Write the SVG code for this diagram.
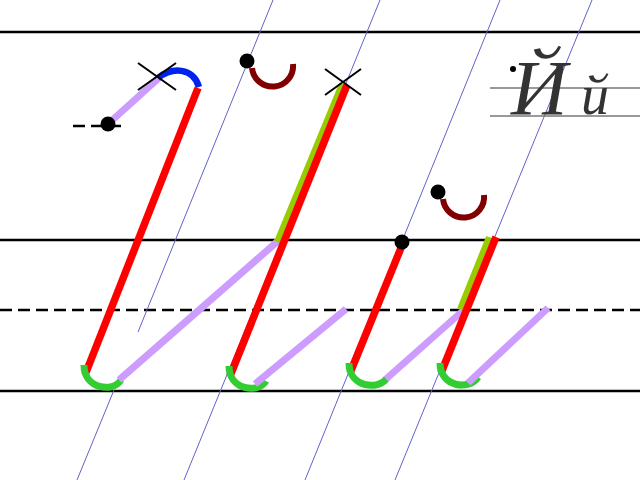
<svg xmlns="http://www.w3.org/2000/svg" width="640" height="480" viewBox="0 0 640 480">
<style>
.rule{stroke:#000;stroke-width:2.6;fill:none}
.dash{stroke:#000;stroke-width:2.6;stroke-dasharray:12 6;fill:none}
.slant{stroke:#6262cc;stroke-width:1;fill:none}
.red{stroke:#ff0000;stroke-width:7.5;fill:none}
.lav{stroke:#cc9cff;stroke-width:7;fill:none}
.grn{stroke:#33cc33;stroke-width:7;fill:none}
.olv{stroke:#99cc00;stroke-width:6;fill:none}
.blu{stroke:#0022ee;stroke-width:6.5;fill:none}
.brv{stroke:#800000;stroke-width:6;fill:none}
.x{stroke:#000;stroke-width:2;fill:none}
.dot{fill:#000}
</style>
<rect width="640" height="480" fill="#fff"/>
<g id="guides">
<line class="rule" x1="0" y1="32" x2="640" y2="32"/>
<line class="rule" x1="0" y1="240" x2="640" y2="240"/>
<line class="dash" x1="0" y1="310" x2="640" y2="310"/>
<line class="rule" x1="0" y1="391" x2="640" y2="391"/>
<line class="slant" x1="273" y1="0" x2="138" y2="332"/>
<line class="slant" x1="114" y1="390" x2="77" y2="480"/>
<line class="slant" x1="380" y1="0" x2="184" y2="480"/>
<line class="slant" x1="500" y1="0" x2="305" y2="480"/>
<line class="slant" x1="592" y1="0" x2="395" y2="480"/>
</g>
<g id="sample">
<line x1="490" y1="88" x2="640" y2="88" stroke="#333" stroke-width="1"/>
<line x1="490" y1="116" x2="640" y2="116" stroke="#777" stroke-width="1.6"/>
<text x="511" y="114" font-family="Liberation Serif, serif" font-style="italic" font-size="78" fill="#333">Й</text>
<text x="581" y="114" font-family="Liberation Serif, serif" font-style="italic" font-size="56" fill="#333">й</text>
<circle cx="513" cy="69" r="3" fill="#000"/>
</g>
<g id="letter1">
<line class="dash" x1="73" y1="126" x2="123" y2="126"/>
<line class="lav" x1="108" y1="124" x2="160" y2="77"/>
<path class="blu" d="M158,78 C172,67 193,67 199,87"/>
<line class="red" x1="198" y1="88" x2="85" y2="375"/>
<path class="grn" d="M84,365 C84,389 113,393 121,380"/>
<line class="lav" x1="119" y1="380" x2="278" y2="241"/>
<circle class="dot" cx="108" cy="124" r="7.5"/>
<path class="x" d="M138,63 L176,90 M176,63 L138,90"/>
</g>
<g id="letter2">
<path class="brv" d="M252,68 A20.5 20.5 0 0 0 293,64"/>
<circle class="dot" cx="247" cy="61" r="7.5"/>
<line class="olv" x1="277" y1="242" x2="342" y2="84"/>
<line class="red" x1="347" y1="85" x2="230" y2="376"/>
<path class="grn" d="M229,366 C229,390 258,394 266,381"/>
<line class="lav" x1="255" y1="384" x2="346" y2="309"/>
<path class="x" d="M325,69 L361,95 M361,69 L325,95"/>
</g>
<g id="letter3">
<line class="red" x1="403" y1="243" x2="350" y2="373"/>
<path class="grn" d="M349,363 C349,387 378,391 387,378"/>
<line class="lav" x1="386" y1="379" x2="466" y2="308"/>
<circle class="dot" cx="402" cy="242" r="7.5"/>
</g>
<g id="letter4">
<path class="brv" d="M443,199 A20.5 20.5 0 0 0 484,195"/>
<circle class="dot" cx="438" cy="192" r="7.5"/>
<line class="olv" x1="460" y1="309" x2="489" y2="237"/>
<line class="red" x1="496" y1="237" x2="441" y2="373"/>
<path class="grn" d="M440,363 C440,387 469,391 478,377"/>
<line class="lav" x1="468" y1="383" x2="548" y2="308"/>
</g>
</svg>
